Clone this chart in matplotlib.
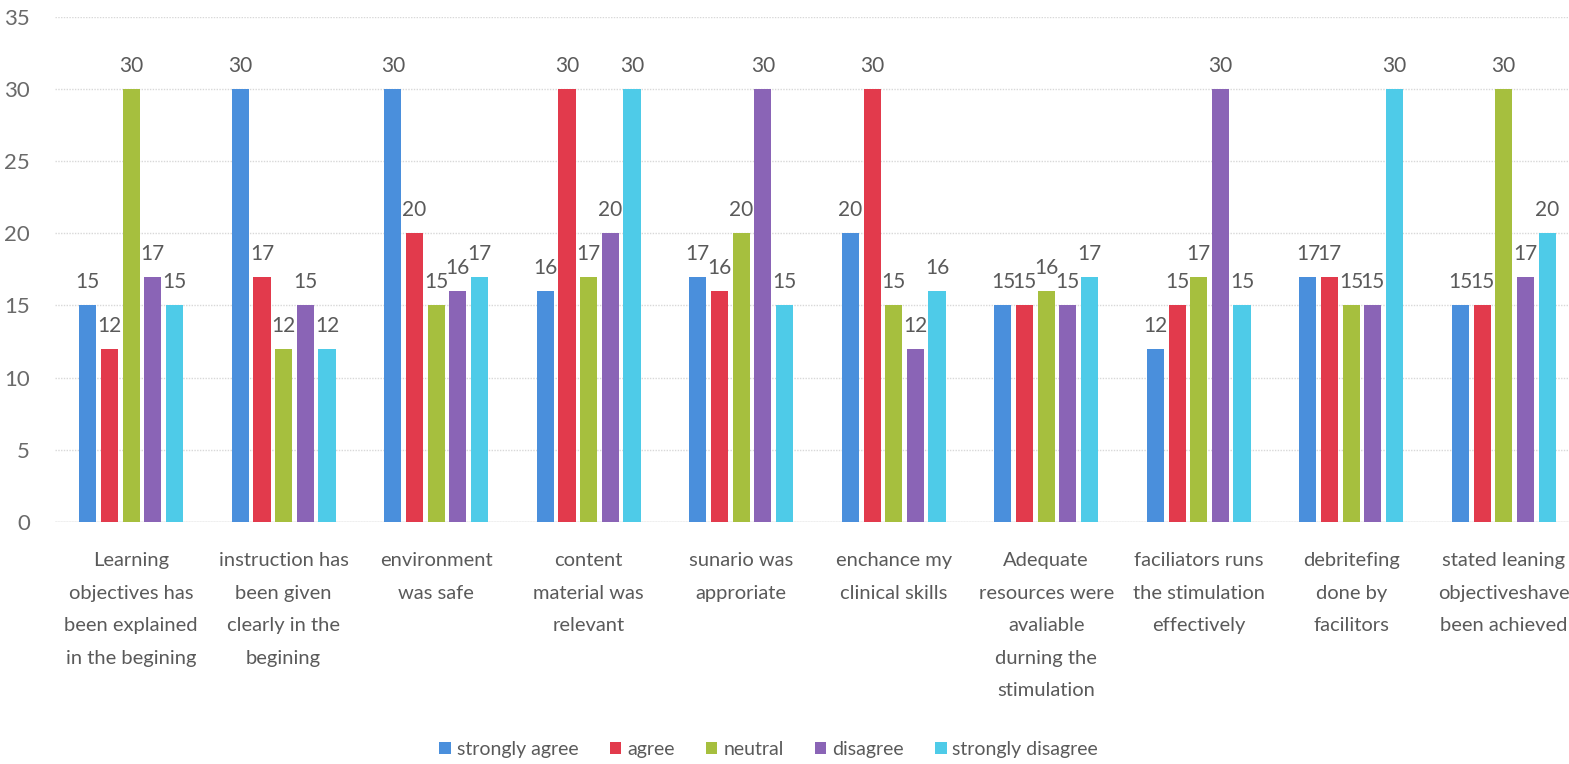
import matplotlib
matplotlib.use("Agg")
import matplotlib.pyplot as plt
import numpy as np

categories = [
    "Learning\nobjectives has\nbeen explained\nin the begining",
    "instruction has\nbeen given\nclearly in the\nbegining",
    "environment\nwas safe",
    "content\nmaterial was\nrelevant",
    "sunario was\napproriate",
    "enchance my\nclinical skills",
    "Adequate\nresources were\navaliable\ndurning the\nstimulation",
    "faciliators runs\nthe stimulation\neffectively",
    "debritefing\ndone by\nfacilitors",
    "stated leaning\nobjectiveshave\nbeen achieved",
]
series_names = ["strongly agree", "agree", "neutral", "disagree", "strongly disagree"]
strongly_agree = [15, 30, 30, 16, 17, 20, 15, 12, 17, 15]
agree = [12, 17, 20, 30, 16, 30, 15, 15, 17, 15]
neutral = [30, 12, 15, 17, 20, 15, 16, 17, 15, 30]
disagree = [17, 15, 16, 20, 30, 12, 15, 30, 15, 17]
strongly_disagree = [15, 12, 17, 30, 15, 16, 17, 15, 30, 20]
series = [strongly_agree, agree, neutral, disagree, strongly_disagree]
colors = ["#4a8fdc", "#e23a4c", "#a6bf3e", "#8a64b6", "#4ecbe8"]
yticks = [0, 5, 10, 15, 20, 25, 30, 35]

plt.rcParams["font.family"] = ["Lato", "DejaVu Sans"]
txt = "#5a5a5a"

fig = plt.figure(figsize=(15.69, 7.64), dpi=100)
ax = fig.add_axes([0.035, 0.317, 0.972, 0.661])

x = np.arange(len(categories))
step = 0.142
width = 0.112
for i, (vals, c, name) in enumerate(zip(series, colors, series_names)):
    pos = x + (i - 2) * step
    ax.bar(pos, vals, width, color=c, label=name, zorder=2)
    for p, v in zip(pos, vals):
        ax.text(p, v + 0.9, str(v), ha="center", va="bottom", fontsize=15, color=txt)

ax.set_xlim(-0.5, len(categories) - 0.5)
ax.set_ylim(0, 35)
ax.set_yticks(yticks)
ax.set_yticklabels([str(t) for t in yticks], fontsize=16, color="#6a6a6a")
ax.set_xticks(x)
ax.set_xticklabels(categories, fontsize=14.5, color=txt, linespacing=2.1)
ax.tick_params(axis="both", length=0)
ax.tick_params(axis="x", pad=22)
ax.tick_params(axis="y", pad=18)
ax.yaxis.grid(True, color="#d8d8d8", linestyle=(0, (1, 1)), linewidth=1, zorder=0)
for s in ax.spines.values():
    s.set_visible(False)
ax.axhline(0, color="#d0d0d0", linewidth=1, zorder=1)

leg = fig.legend(loc="lower center", bbox_to_anchor=(0.49, -0.015), ncol=5, frameon=False,
                 fontsize=14, handlelength=0.6, handleheight=0.6, handletextpad=0.3,
                 columnspacing=1.6)
for t in leg.get_texts():
    t.set_color(txt)

fig.savefig("out.png", dpi=100)
